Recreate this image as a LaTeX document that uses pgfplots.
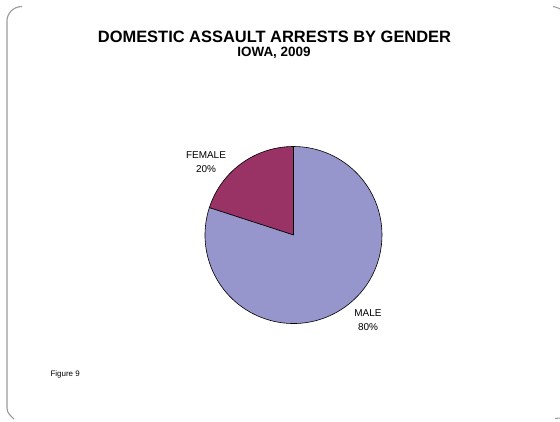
\documentclass[border=0pt]{standalone}
\usepackage{pgfplots}
\pgfplotsset{compat=1.18}
\usepackage{pgfplotstable}
\usepackage{fontspec}
\setmainfont{Liberation Sans}
\definecolor{malec}{RGB}{150,150,204}
\definecolor{femalec}{RGB}{153,51,102}
\pgfplotstableread{
label share
FEMALE 20
MALE 80
}\piedata
\begin{document}
\begin{tikzpicture}[x=1bp,y=1bp]
\useasboundingbox (0,0) rectangle (560,421);
\draw[gray!80, line width=1.1bp] (22,414.5) to[out=180,in=90] (7,400) -- (7,13) to[out=-90,in=135] (14,2);
\draw[gray!80, line width=1bp] (553,414.5) to[out=0,in=160] (560,412);
\draw[gray!80, line width=1bp] (555,2.5) -- (560,3);
\node[font=\fontsize{16.5}{18}\selectfont\bfseries] at (274.5,384) {DOMESTIC ASSAULT ARRESTS BY GENDER};
\node[font=\fontsize{13.5}{15}\selectfont\bfseries] at (274,368) {IOWA, 2009};
\pgfplotstablegetelem{0}{share}\of\piedata \pgfmathsetmacro{\fem}{\pgfplotsretval}
\pgfplotstablegetelem{1}{share}\of\piedata \pgfmathsetmacro{\mal}{\pgfplotsretval}
\pgfmathsetmacro{\aA}{90}
\pgfmathsetmacro{\aB}{90+3.6*\fem}
\pgfmathsetmacro{\aC}{\aB+3.6*\mal}
\begin{axis}[at={(293.5bp,186bp)}, anchor=center, scale only axis,
  width=177bp, height=177bp, xmin=-1, xmax=1, ymin=-1, ymax=1, hide axis, clip=false]
\filldraw[fill=femalec, draw=black, line width=0.6bp] (axis cs:0,0) -- (axis cs:{cos(\aA)},{sin(\aA)}) arc[start angle=\aA, end angle=\aB, radius=88.5bp] -- cycle;
\filldraw[fill=malec, draw=black, line width=0.6bp] (axis cs:0,0) -- (axis cs:{cos(\aB)},{sin(\aB)}) arc[start angle=\aB, end angle=\aC, radius=88.5bp] -- cycle;
\end{axis}
\node[font=\fontsize{10}{14.5}\selectfont, align=center] at (206,259) {FEMALE\\20\%};
\node[font=\fontsize{10}{14.5}\selectfont, align=center] at (368,101) {MALE\\80\%};
\node[font=\fontsize{8}{9}\selectfont, anchor=west] at (47,47) {Figure 9};
\end{tikzpicture}
\end{document}
